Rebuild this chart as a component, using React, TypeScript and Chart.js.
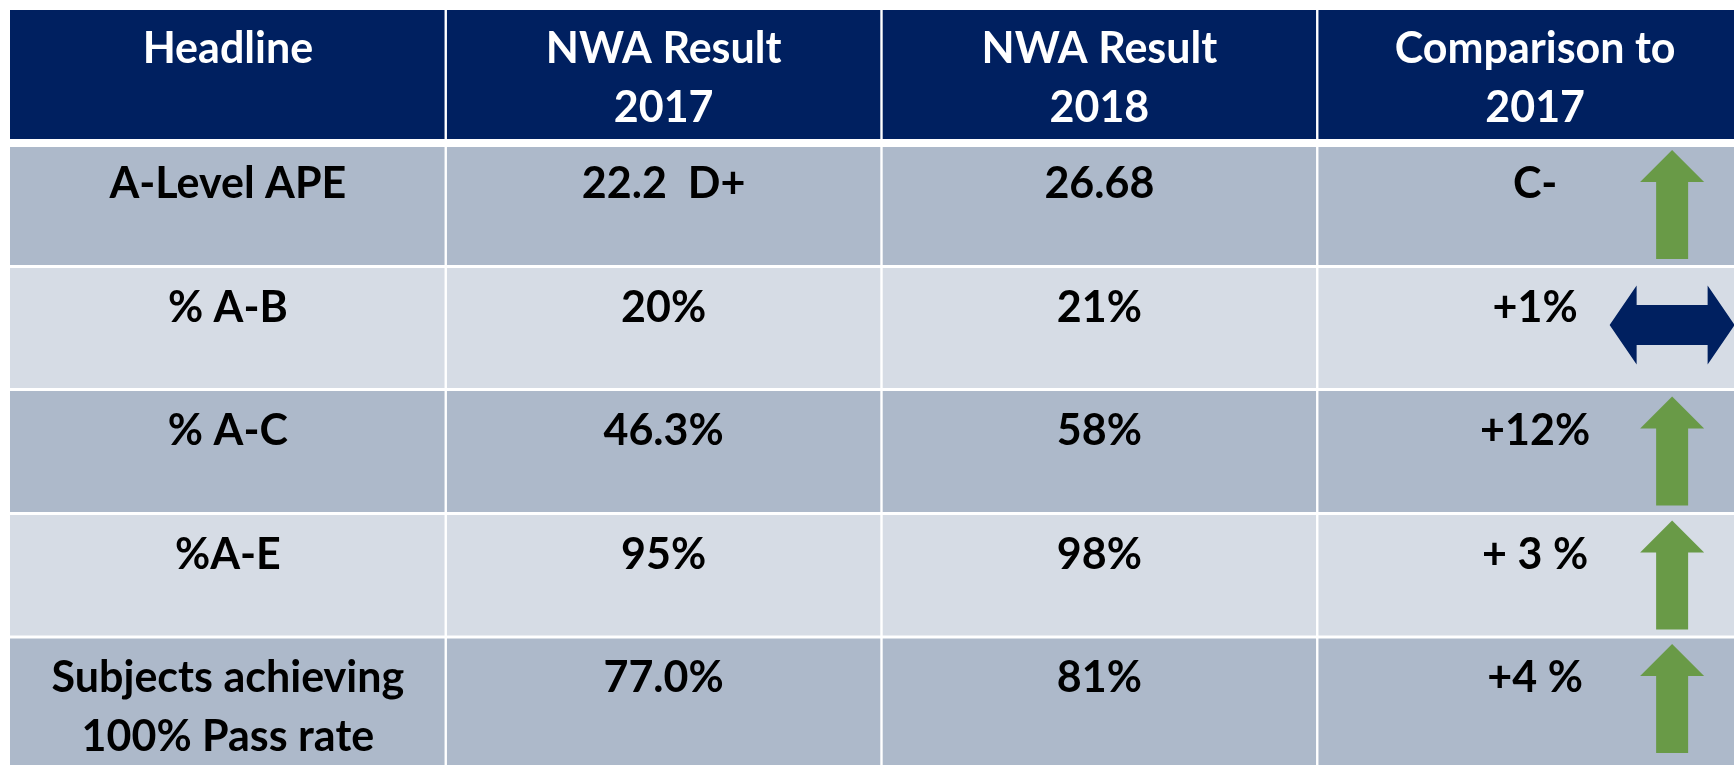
import React, { useEffect, useRef } from 'react';
import { Chart, registerables } from 'chart.js';

Chart.register(...registerables);

// ---------- data ----------
const columnHeaders = ['Headline', 'NWA Result\n2017', 'NWA Result\n2018', 'Comparison to\n2017'];
const headlines = ['A-Level APE', '% A-B', '% A-C', '%A-E', 'Subjects achieving\n100% Pass rate'];
const result2017 = ['22.2  D+', '20%', '46.3%', '95%', '77.0%'];
const result2018 = ['26.68', '21%', '58%', '98%', '81%'];
const comparison = ['C-', '+1%', '+12%', '+ 3 %', '+4 %'];
const trend = ['up', 'same', 'up', 'up', 'up'];

// ---------- styles ----------
const NAVY = '#002060';
const DARK_ROW = '#ADB9CA';
const LIGHT_ROW = '#D6DCE5';
const GREEN = '#699A47';
const FONT = 'bold 43px Lato';
const LINE_HEIGHT = 59;
const ROW_WEIGHTS = [133, 123.5, 123, 124, 123.5, 138];

const tableRows: string[][] = [
  columnHeaders,
  ...headlines.map((h, i) => [h, result2017[i], result2018[i], comparison[i]]),
];

function drawUpArrow(ctx: CanvasRenderingContext2D, cx: number, tip: number) {
  const headH = 32, headHalf = 32, shaftHalf = 16, total = 109;
  ctx.beginPath();
  ctx.moveTo(cx, tip);
  ctx.lineTo(cx + headHalf, tip + headH);
  ctx.lineTo(cx + shaftHalf, tip + headH);
  ctx.lineTo(cx + shaftHalf, tip + total);
  ctx.lineTo(cx - shaftHalf, tip + total);
  ctx.lineTo(cx - shaftHalf, tip + headH);
  ctx.lineTo(cx - headHalf, tip + headH);
  ctx.closePath();
  ctx.fillStyle = GREEN;
  ctx.fill();
}

function drawBothArrow(ctx: CanvasRenderingContext2D, cx: number, cy: number) {
  const halfLen = 62.5, headL = 27, headHalf = 39.5, shaftHalf = 20;
  ctx.beginPath();
  ctx.moveTo(cx - halfLen, cy);
  ctx.lineTo(cx - halfLen + headL, cy - headHalf);
  ctx.lineTo(cx - halfLen + headL, cy - shaftHalf);
  ctx.lineTo(cx + halfLen - headL, cy - shaftHalf);
  ctx.lineTo(cx + halfLen - headL, cy - headHalf);
  ctx.lineTo(cx + halfLen, cy);
  ctx.lineTo(cx + halfLen - headL, cy + headHalf);
  ctx.lineTo(cx + halfLen - headL, cy + shaftHalf);
  ctx.lineTo(cx - halfLen + headL, cy + shaftHalf);
  ctx.lineTo(cx - halfLen + headL, cy + headHalf);
  ctx.closePath();
  ctx.fillStyle = NAVY;
  ctx.fill();
}

const tableTextPlugin = {
  id: 'tableText',
  afterDatasetsDraw(chart: any) {
    const ctx: CanvasRenderingContext2D = chart.ctx;
    ctx.save();
    ctx.font = FONT;
    ctx.textAlign = 'center';
    ctx.textBaseline = 'alphabetic';
    tableRows.forEach((cells, r) => {
      const meta = chart.getDatasetMeta(r);
      cells.forEach((text, c) => {
        const el = meta.data[c];
        if (!el) return;
        const { x, y, base } = el.getProps(['x', 'y', 'base'], true);
        const top = Math.min(y, base);
        ctx.fillStyle = r === 0 ? '#FFFFFF' : '#000000';
        const first = top + (r === 0 ? 53 : 55);
        text.split('\n').forEach((ln, i) => ctx.fillText(ln, x, first + i * LINE_HEIGHT));
      });
      if (r > 0) {
        const el = meta.data[3];
        const { x, y, base } = el.getProps(['x', 'y', 'base'], true);
        const top = Math.min(y, base);
        const bottom = Math.max(y, base);
        const cx = x + 137;
        if (trend[r - 1] === 'up') drawUpArrow(ctx, cx, top + 7);
        else drawBothArrow(ctx, cx, (top + bottom) / 2 - 3);
      }
    });
    ctx.restore();
  },
};

export default function App() {
  const canvasRef = useRef<HTMLCanvasElement | null>(null);

  useEffect(() => {
    if (!canvasRef.current) return;
    const nCols = columnHeaders.length;
    const datasets = tableRows.map((cells, r) => ({
      label: r === 0 ? 'Header' : headlines[r - 1],
      data: cells.map(() => 1),
      yAxisID: `r${r}`,
      backgroundColor: r === 0 ? NAVY : r % 2 === 1 ? DARK_ROW : LIGHT_ROW,
      borderColor: '#FFFFFF',
      borderWidth: (ctx: any) => {
        const c = ctx.dataIndex;
        return {
          top: r === 0 ? 0 : r === 1 ? 4 : 1.5,
          bottom: r === 0 ? 4 : r === tableRows.length - 1 ? 0 : 1.5,
          left: c === 0 ? 0 : 1.2,
          right: c === nCols - 1 ? 0 : 1.2,
        };
      },
      borderSkipped: false,
      inflateAmount: 0,
      grouped: false,
      categoryPercentage: 1,
      barPercentage: 1,
    }));

    const scales: any = {
      x: { type: 'category', display: false, offset: true, grid: { display: false } },
    };
    tableRows.forEach((_, r) => {
      scales[`r${r}`] = {
        type: 'linear',
        min: 0,
        max: 1,
        display: false,
        position: 'right',
        stack: 'rows',
        stackWeight: ROW_WEIGHTS[r],
        weight: r,
      };
    });

    const chart = new Chart(canvasRef.current, {
      type: 'bar',
      data: {
        labels: columnHeaders.map((h) => h.replace('\n', ' ')),
        datasets: datasets as any,
      },
      options: {
        responsive: false,
        animation: false,
        devicePixelRatio: 1,
        layout: { padding: { left: 10, top: 10, right: 7, bottom: 0 } },
        scales,
        plugins: {
          legend: { display: false },
          tooltip: { enabled: false },
          title: { display: false },
        },
      } as any,
      plugins: [tableTextPlugin],
    });
    return () => chart.destroy();
  }, []);

  return (
    <div
      style={{
        position: 'fixed',
        left: 0,
        top: 0,
        width: 1734,
        height: 765,
        overflow: 'hidden',
        background: '#FFFFFF',
      }}
    >
      <canvas ref={canvasRef} width={1760} height={775} style={{ display: 'block' }} />
    </div>
  );
}
